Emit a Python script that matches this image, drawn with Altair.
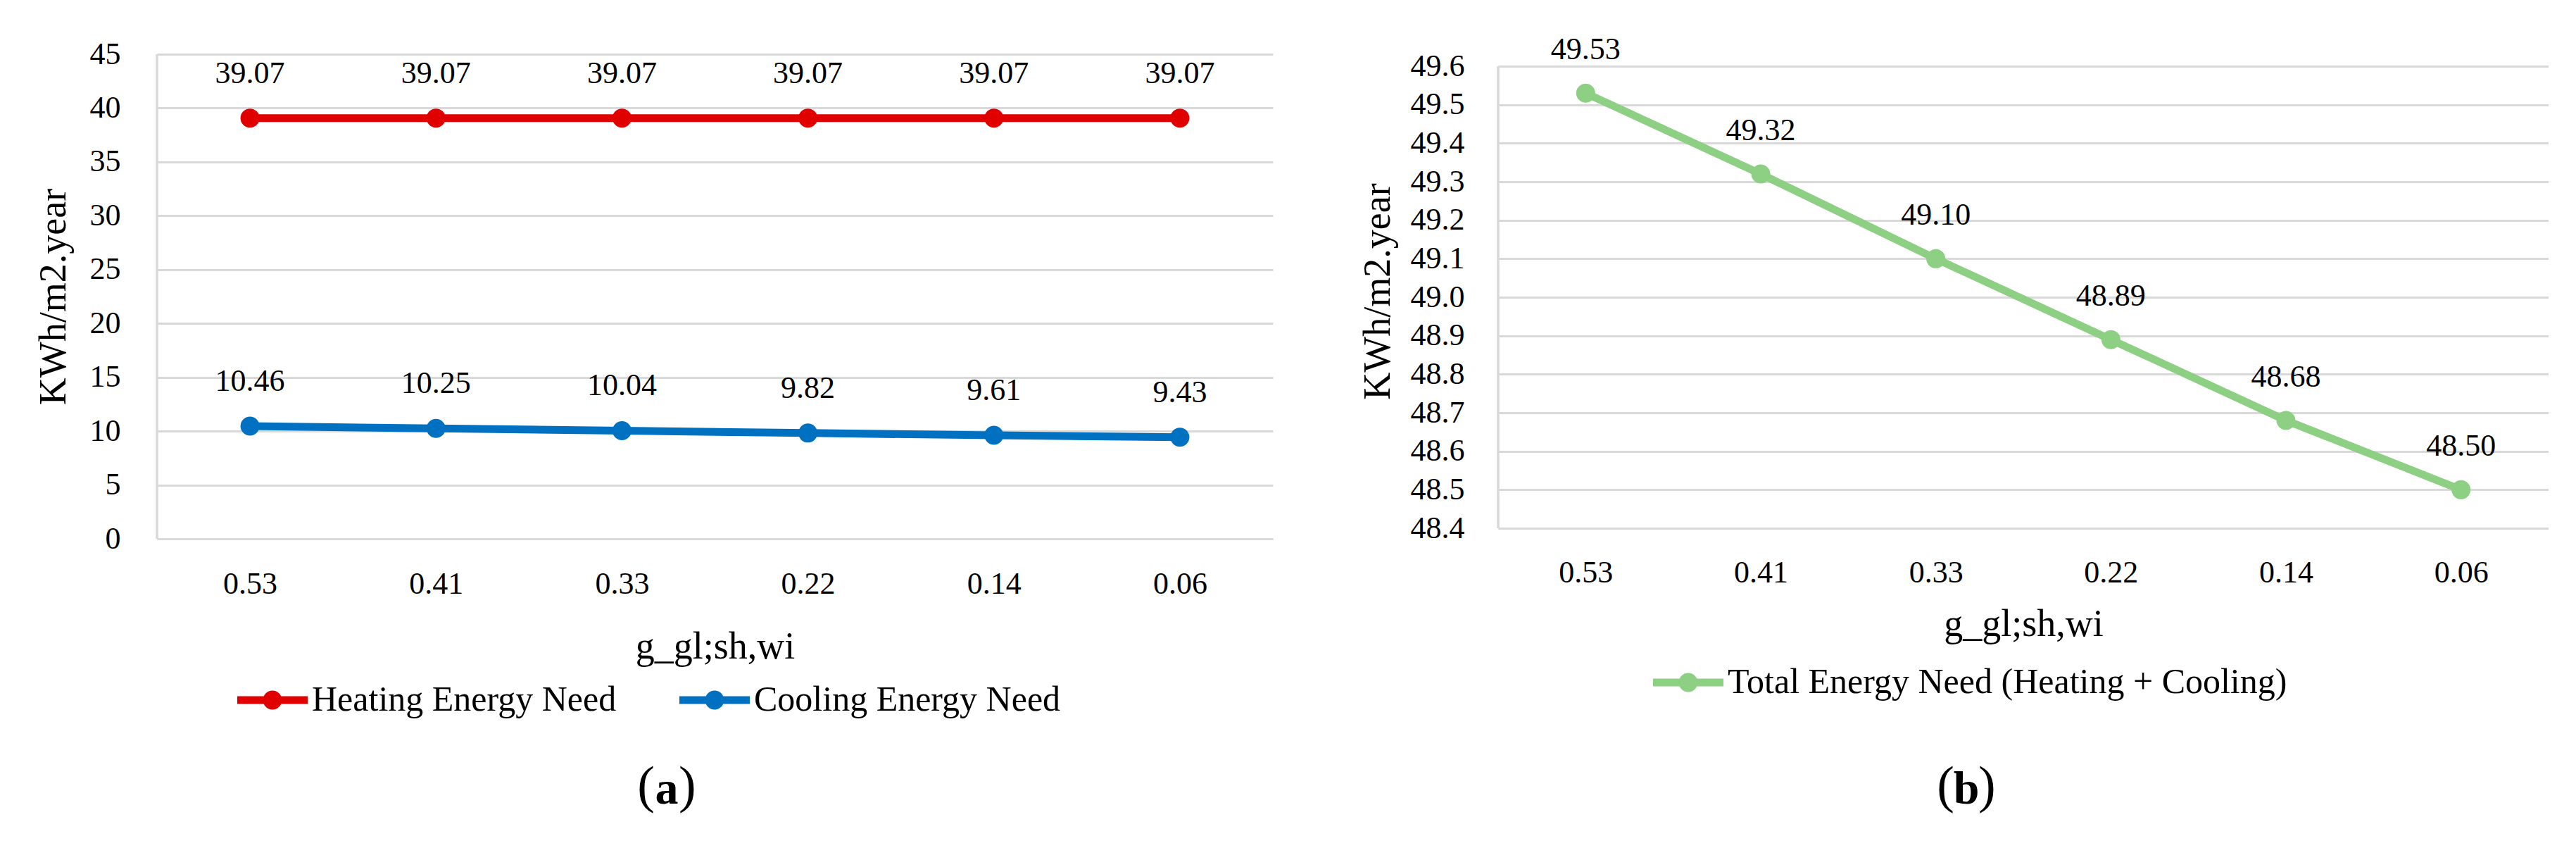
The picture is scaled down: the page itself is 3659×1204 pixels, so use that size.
import altair as alt
import pandas as pd

# ---------------- data ----------------
g_labels = ["0.53", "0.41", "0.33", "0.22", "0.14", "0.06"]
heating = [39.07, 39.07, 39.07, 39.07, 39.07, 39.07]
cooling = [10.46, 10.25, 10.04, 9.82, 9.61, 9.43]
total = [49.53, 49.32, 49.10, 48.89, 48.68, 48.50]

left_series = ["Heating Energy Need", "Cooling Energy Need"]
left_colors = ["#E00000", "#0070C0"]
right_series = ["Total Energy Need (Heating + Cooling)"]
right_colors = ["#8DCF83"]

left_ticks = [0, 5, 10, 15, 20, 25, 30, 35, 40, 45]
right_ticks = [48.4, 48.5, 48.6, 48.7, 48.8, 48.9, 49.0, 49.1, 49.2, 49.3, 49.4, 49.5, 49.6]

x_title = "g_gl;sh,wi"
y_title = "KWh/m2.year"
panel_tags = ["a", "b"]

# ---------------- tables ----------------
rows = []
for i, g in enumerate(g_labels):
    rows.append({"g": g, "idx": i, "value": heating[i], "series": left_series[0]})
for i, g in enumerate(g_labels):
    rows.append({"g": g, "idx": i, "value": cooling[i], "series": left_series[1]})
df_left = pd.DataFrame(rows)
df_right = pd.DataFrame({"g": g_labels, "idx": list(range(len(g_labels))),
                         "value": total, "series": right_series * len(g_labels)})
one = pd.DataFrame({"k": [0]})

FONT = "Liberation Serif"
GRID = "#D9D9D9"
LEG_PATH = ("M-1,-0.11H1V0.11H-1Z "
            "M-0.27,0A0.27,0.27 0 1,1 0.27,0A0.27,0.27 0 1,1 -0.27,0Z")


def panel(df, series, colors, ticks, domain, axis_span, fmt_axis, w, h,
          ylab_pad, ytitle_pad, xlab_pad, xtitle_pad, label_dy,
          leg_x, leg_y, tag, tag_x, tag_y):
    xenc = alt.X("g:N", sort=g_labels,
                 scale=alt.Scale(type="point", padding=0.5),
                 axis=alt.Axis(title=x_title, labelAngle=0, grid=False, ticks=False,
                               domain=True, domainColor=GRID, domainWidth=3,
                               labelPadding=xlab_pad, titlePadding=xtitle_pad,
                               labelFontSize=44, titleFontSize=54))
    yenc = alt.Y("value:Q",
                 scale=alt.Scale(domain=domain, nice=False, zero=False),
                 axis=alt.Axis(title=y_title, values=ticks, format=fmt_axis,
                               grid=True, gridColor=GRID, gridWidth=3,
                               ticks=False, domain=False,
                               labelPadding=ylab_pad, titlePadding=ytitle_pad,
                               labelFontSize=44, titleFontSize=54))
    cscale = alt.Scale(domain=series, range=colors)
    legend = alt.Legend(orient="none", legendX=leg_x, legendY=leg_y,
                        direction="horizontal", title=None,
                        symbolType=LEG_PATH, symbolSize=10000,
                        symbolStrokeWidth=0, symbolOpacity=1,
                        labelFont=FONT, labelFontSize=50,
                        labelColor="black", labelOffset=6,
                        columnPadding=89, labelLimit=3000)
    base = alt.Chart(df).encode(x=xenc, y=yenc)
    axis_line = alt.Chart(one).mark_rule(color=GRID, strokeWidth=3.5).encode(
        x=alt.value(0), y=alt.datum(axis_span[0]), y2=alt.datum(axis_span[1]))
    line = base.mark_line(strokeWidth=11).encode(
        color=alt.Color("series:N", scale=cscale, legend=legend),
        order=alt.Order("idx:Q"))
    pts = base.mark_circle(size=729, opacity=1).encode(
        color=alt.Color("series:N", scale=cscale, legend=legend))
    labels = base.mark_text(dy=label_dy, fontSize=44, font=FONT, color="black").encode(
        text=alt.Text("value:Q", format=".2f"))
    lp = alt.Chart(one).mark_text(text="(", font=FONT, fontSize=74, align="right",
                                  baseline="middle", color="black").encode(
        x=alt.value(tag_x - 17), y=alt.value(tag_y))
    lt = alt.Chart(one).mark_text(text=tag, font=FONT, fontSize=66, fontWeight="bold",
                                  align="center", baseline="middle", color="black").encode(
        x=alt.value(tag_x), y=alt.value(tag_y + 4))
    rp = alt.Chart(one).mark_text(text=")", font=FONT, fontSize=74, align="left",
                                  baseline="middle", color="black").encode(
        x=alt.value(tag_x + 17), y=alt.value(tag_y))
    return alt.layer(axis_line, line, pts, labels, lp, lt, rp).properties(width=w, height=h)


# left plot: top 77, bottom 765 ; right plot: 49.6 at 94, 48.4 at 750 (plot area starts at 77)
left = panel(df_left, left_series, left_colors, left_ticks, [0, 45], [0, 45], "d",
             1585, 688, 52, 23.5, 42, 40, -63,
             114, 867, panel_tags[0], 724, 1040)
right = panel(df_right, right_series, right_colors, right_ticks, [48.4, 49.6311], [48.4, 49.6], ".1f",
              1492, 673, 48, 18.5, 41, 24, -61,
              220, 842, panel_tags[1], 665, 1040)

chart = alt.hconcat(left, right, spacing=122).resolve_scale(
    color="independent", x="independent", y="independent"
).resolve_legend(color="independent").properties(
    padding={"left": 41, "top": 41, "right": 0, "bottom": 30}
).configure(background="white").configure_view(stroke=None).configure_axis(
    labelFont=FONT, titleFont=FONT, labelColor="black", titleColor="black",
    titleFontWeight="normal"
)

chart.save("out.html", embed_options={"renderer": "svg", "actions": False})
